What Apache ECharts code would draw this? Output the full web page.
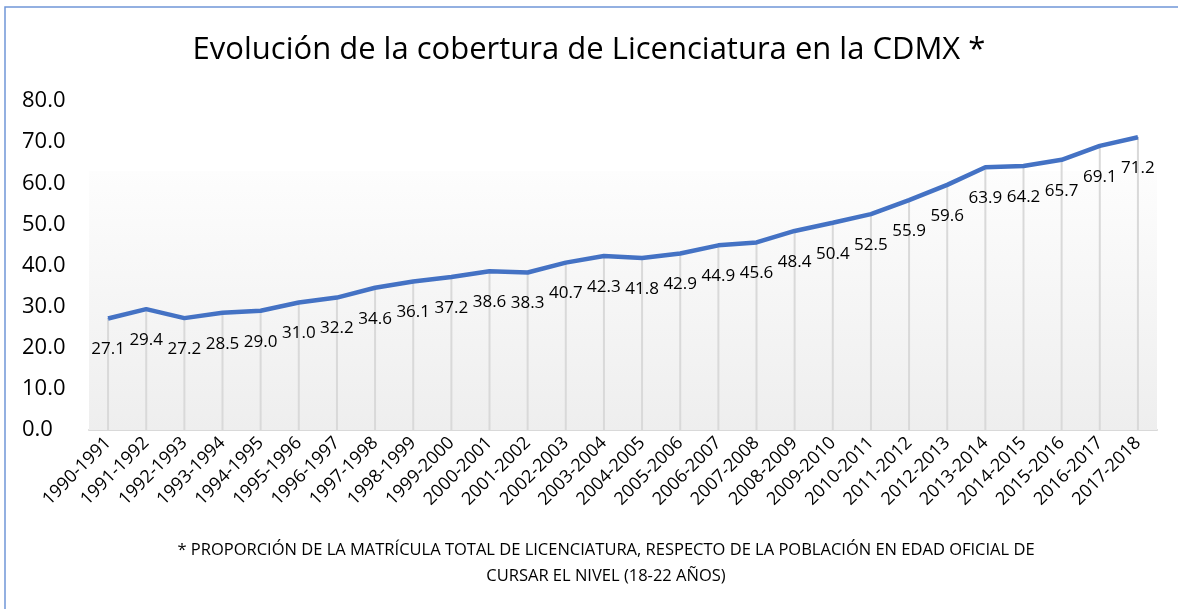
<!DOCTYPE html>
<html>
<head>
<meta charset="utf-8">
<script src="https://cdn.jsdelivr.net/npm/echarts@6/dist/echarts.min.js"></script>
<style>
  html, body { margin: 0; padding: 0; background: #fff; }
  #chart { width: 1178px; height: 609px; }
</style>
</head>
<body>
<div id="chart"></div>
<script>
// ciclos escolares
var ciclos = ['1990-1991', '1991-1992', '1992-1993', '1993-1994', '1994-1995', '1995-1996',
  '1996-1997', '1997-1998', '1998-1999', '1999-2000', '2000-2001', '2001-2002', '2002-2003',
  '2003-2004', '2004-2005', '2005-2006', '2006-2007', '2007-2008', '2008-2009', '2009-2010',
  '2010-2011', '2011-2012', '2012-2013', '2013-2014', '2014-2015', '2015-2016', '2016-2017',
  '2017-2018'];
// cobertura (%)
var cobertura = [27.1, 29.4, 27.2, 28.5, 29.0, 31.0, 32.2, 34.6, 36.1, 37.2, 38.6, 38.3, 40.7,
  42.3, 41.8, 42.9, 44.9, 45.6, 48.4, 50.4, 52.5, 55.9, 59.6, 63.9, 64.2, 65.7, 69.1, 71.2];
var yTicks = { min: 0, max: 80, interval: 10 };
var titulo = 'Evolución de la cobertura de Licenciatura en la CDMX *';
var nota = '* PROPORCIÓN DE LA MATRÍCULA TOTAL DE LICENCIATURA, RESPECTO DE LA POBLACIÓN EN EDAD OFICIAL DE\nCURSAR EL NIVEL (18-22 AÑOS)';

var fuente = '"Open Sans", sans-serif';
var chart = echarts.init(document.getElementById('chart'));

var option = {
  animation: false,
  textStyle: { fontFamily: fuente },
  title: [
    {
      text: titulo,
      left: 'center',
      top: 30,
      textStyle: { fontFamily: fuente, fontSize: 31, fontWeight: 'normal', color: '#000' }
    },
    {
      text: nota,
      left: 601,
      textAlign: 'center',
      top: 532,
      textStyle: { fontFamily: fuente, fontSize: 16.5, fontWeight: 'normal', color: '#000', lineHeight: 26 }
    }
  ],
  graphic: [{
    type: 'polyline',
    shape: { points: [[5, 700], [5, 7], [1300, 7]] },
    style: { fill: null, stroke: '#7096d8', lineWidth: 1.5 },
    silent: true
  }],
  grid: { left: 89, right: 21, top: 101, bottom: 179 },
  xAxis: {
    type: 'category',
    data: ciclos,
    axisLine: { lineStyle: { color: '#d9d9d9', width: 2 } },
    axisTick: { show: false },
    axisLabel: { rotate: 45, fontSize: 18, color: '#000', margin: 10, interval: 0, fontFamily: fuente }
  },
  yAxis: {
    type: 'value',
    min: yTicks.min,
    max: yTicks.max,
    interval: yTicks.interval,
    splitLine: { show: false },
    axisLine: { show: false },
    axisTick: { show: false },
    axisLabel: {
      align: 'left', margin: 67, fontSize: 22, color: '#000', fontFamily: fuente,
      formatter: function (v) { return v.toFixed(1); }
    }
  },
  series: [
    {
      // líneas de caída
      type: 'bar',
      data: cobertura,
      barWidth: 2,
      silent: true,
      itemStyle: { color: '#d9d9d9' },
      z: 1,
      markArea: {
        silent: true,
        itemStyle: {
          color: new echarts.graphic.LinearGradient(0, 0, 0, 1, [
            { offset: 0, color: '#fdfdfd' },
            { offset: 1, color: '#eeeeee' }
          ])
        },
        data: [[{ yAxis: 63 }, { yAxis: 0 }]]
      }
    },
    {
      type: 'line',
      data: cobertura,
      symbol: 'circle',
      symbolSize: 1,
      showSymbol: true,
      itemStyle: { color: '#4472c4' },
      lineStyle: { color: '#4472c4', width: 4.5 },
      z: 3,
      label: {
        show: true,
        position: 'bottom',
        distance: 22,
        fontSize: 17,
        color: '#000',
        fontFamily: fuente,
        formatter: function (p) { return p.value.toFixed(1); }
      }
    }
  ]
};
chart.setOption(option);
</script>
</body>
</html>
